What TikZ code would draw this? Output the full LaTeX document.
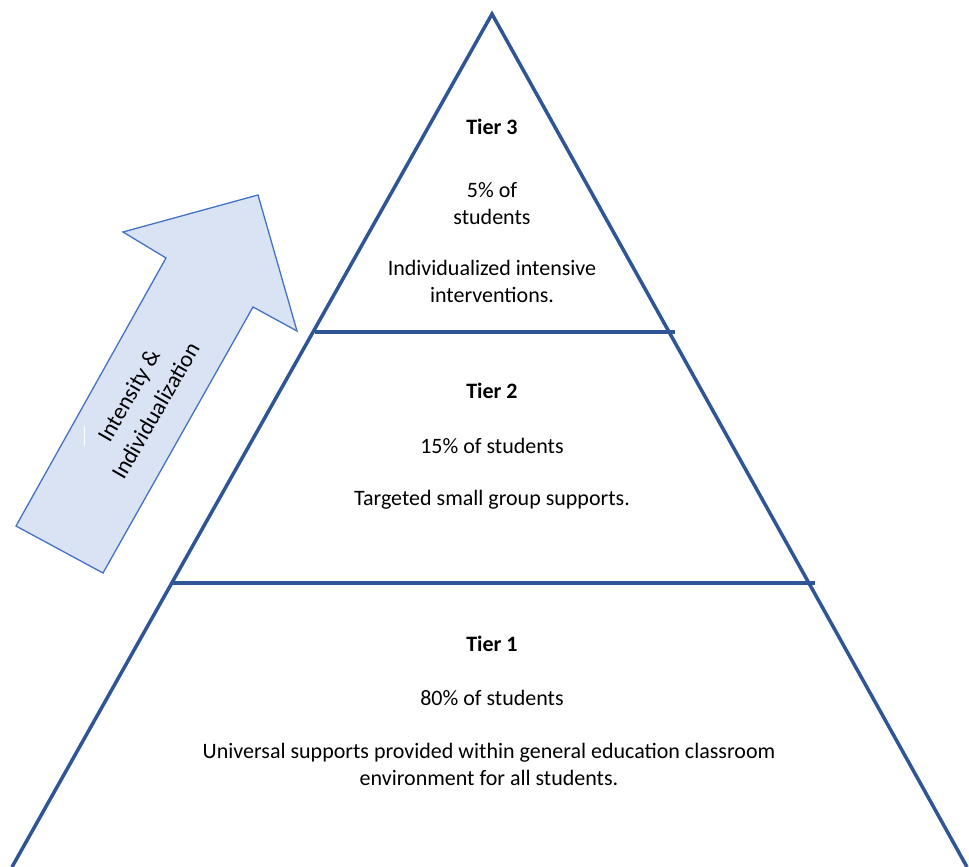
\documentclass[tikz,border=0pt]{standalone}
\usepackage{fontspec}
\setmainfont{Carlito}
\begin{document}
\begin{tikzpicture}[x=1pt,y=-1pt,
  edge/.style={draw=pyrblue,line width=3.5pt},
  txt/.style={align=center,font=\fontsize{22}{27}\selectfont},
  head/.style={txt,font=\fontsize{22}{27}\selectfont\bfseries}]
\definecolor{pyrblue}{HTML}{2F5597}
\definecolor{arrline}{HTML}{4472C4}
\definecolor{arrfill}{HTML}{DAE3F3}
\fill[white] (0,0) rectangle (969,867);
\useasboundingbox (0,0) rectangle (969,867);

% upward arrow
\draw[draw=arrline,fill=arrfill,line width=1.3pt,line join=miter]
  (16,526) -- (103,573) -- (253,307) -- (297,331) -- (258,195)
  -- (123,232) -- (166,258) -- cycle;
\draw[white,line width=1pt] (84,426) -- (84,446);
\node[align=center,font=\fontsize{23}{31}\selectfont,rotate=60] (arrtext) at (142,403)
  {Intensity \&\\Individualization};

% pyramid outline
\coordinate (apex) at (492,14);
\coordinate (bl) at (12,867);
\coordinate (br) at (967,867);
\coordinate (t3l) at (315,332);
\coordinate (t3r) at (675,332);
\coordinate (t2l) at (173,583);
\coordinate (t2r) at (815,583);
\draw[edge,line join=miter] (bl) -- (apex) -- (br);
\draw[edge] (t3l) -- (t3r);
\draw[edge] (t2l) -- (t2r);

% tier 3
\node[head] (t3h) at (492,127) {Tier 3};
\node[txt] (t3p) at (492,204) {5\% of\\students};
\node[txt] (t3d) at (492,281) {Individualized intensive\\interventions.};

% tier 2
\node[head] (t2h) at (492,391) {Tier 2};
\node[txt] (t2p) at (492,446) {15\% of students};
\node[txt] (t2d) at (492,500) {Targeted small group supports.};

% tier 1
\node[head] (t1h) at (492,644) {Tier 1};
\node[txt] (t1p) at (492,698) {80\% of students};
\node[txt] (t1d) at (489,764) {Universal supports provided within general education classroom\\environment for all students.};
\end{tikzpicture}
\end{document}
